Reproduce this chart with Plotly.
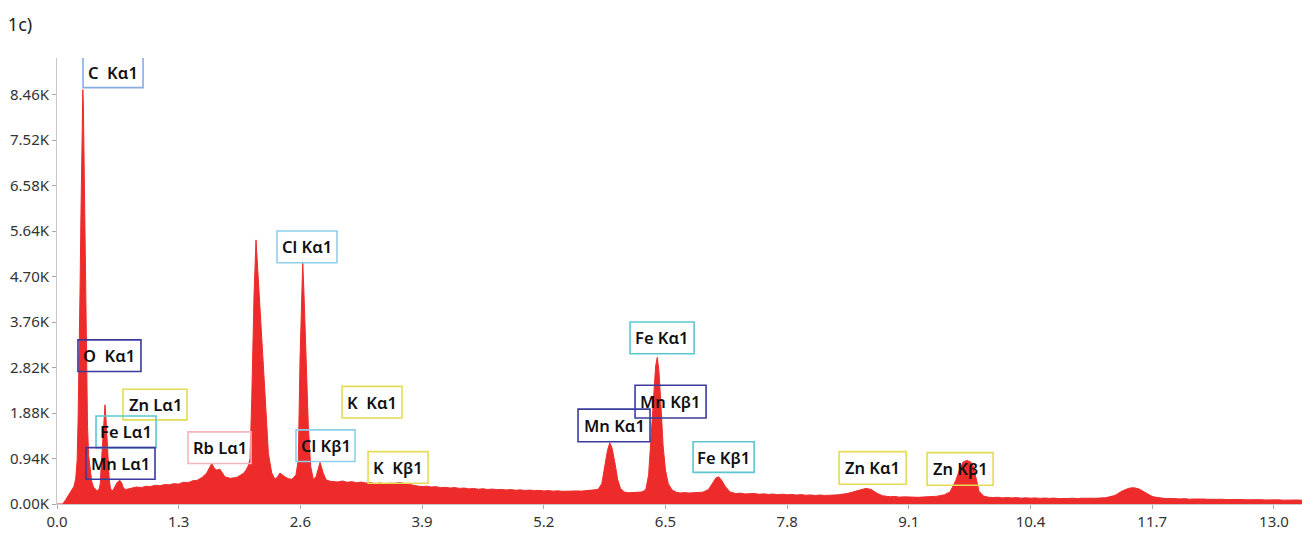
import plotly.graph_objects as go

# EDS spectrum, split into energy ranges: energy (keV) and counts
# 0 - 0.8 keV: C K and O / Fe L / Mn L lines
e_low = [0.00, 0.06, 0.09, 0.12, 0.15, 0.18, 0.20, 0.215, 0.225, 0.236,
         0.246, 0.256, 0.264, 0.270, 0.276, 0.282, 0.288, 0.295, 0.302, 0.310,
         0.318, 0.326, 0.338, 0.353, 0.370, 0.390, 0.410, 0.430, 0.450, 0.462,
         0.475, 0.490, 0.503, 0.513, 0.522, 0.533, 0.545, 0.558, 0.570, 0.585,
         0.600, 0.620, 0.645, 0.670, 0.690, 0.710, 0.730, 0.760]
c_low = [0, 0, 80, 170, 250, 360, 520, 900, 1700, 2900,
         4400, 6000, 7150, 8100, 8560, 8200, 7200, 5900, 4500, 3300,
         2300, 1600, 1000, 680, 470, 350, 300, 270, 310, 420,
         880, 1450, 1900, 2050, 1800, 1350, 880, 520, 330, 270,
         290, 360, 450, 490, 440, 330, 300, 310]

# 0.8 - 2.95 keV: Rb L, Au M, Cl K lines
e_mid = [0.80, 0.85, 0.90, 0.95, 1.00, 1.05, 1.10, 1.15, 1.20, 1.25,
         1.30, 1.35, 1.40, 1.45, 1.50, 1.55, 1.60, 1.625, 1.653, 1.68,
         1.706, 1.74, 1.77, 1.795, 1.85, 1.92, 1.99, 2.02, 2.045, 2.062,
         2.080, 2.105, 2.126, 2.151, 2.187, 2.222, 2.258, 2.294, 2.329, 2.355,
         2.382, 2.41, 2.436, 2.475, 2.51, 2.553, 2.578, 2.596, 2.614, 2.625,
         2.639, 2.660, 2.685, 2.71, 2.738, 2.767, 2.81, 2.842, 2.874, 2.917]
c_mid = [330, 352, 338, 366, 360, 388, 375, 402, 396, 420,
         412, 448, 440, 480, 492, 548, 640, 730, 840, 740,
         700, 720, 640, 560, 530, 550, 630, 700, 800, 940,
         2150, 4330, 5455, 4680, 3500, 2280, 1050, 640, 510, 560,
         640, 590, 560, 520, 510, 600, 920, 2970, 4330, 5000,
         4330, 2970, 1600, 780, 510, 560, 860, 650, 500, 470]

# 2.95 - 5.7 keV: K lines on the continuum
e_k = [2.95, 3.0, 3.05, 3.1, 3.15, 3.2, 3.25, 3.3, 3.35, 3.4,
       3.45, 3.5, 3.55, 3.6, 3.66, 3.72, 3.76, 3.8, 3.85, 3.9,
       3.95, 4.0, 4.05, 4.1, 4.15, 4.2, 4.25, 4.3, 4.35, 4.4,
       4.45, 4.5, 4.55, 4.6, 4.65, 4.7, 4.75, 4.8, 4.85, 4.9,
       4.95, 5.0, 5.05, 5.1, 5.15, 5.2, 5.25, 5.3, 5.35, 5.4,
       5.45, 5.5, 5.55, 5.6, 5.65, 5.70]
c_k = [465, 455, 475, 448, 462, 440, 452, 432, 445, 420,
       436, 412, 430, 425, 445, 420, 405, 385, 372, 360,
       368, 350, 358, 338, 345, 330, 340, 322, 330, 312,
       322, 305, 315, 300, 308, 296, 302, 290, 298, 284,
       292, 280, 288, 276, 282, 270, 278, 265, 272, 262,
       268, 262, 270, 266, 275, 295]

# 5.7 - 7.2 keV: Mn K and Fe K lines
e_fe = [5.78, 5.82, 5.85, 5.88, 5.905, 5.93, 5.96, 5.99, 6.02, 6.06,
        6.10, 6.15, 6.20, 6.24, 6.26, 6.29, 6.32, 6.345, 6.37, 6.395,
        6.413, 6.43, 6.45, 6.475, 6.50, 6.53, 6.57, 6.62, 6.66, 6.70,
        6.75, 6.80, 6.85, 6.90, 6.96, 7.0, 7.04, 7.07, 7.1, 7.14,
        7.19]
c_fe = [300, 420, 750, 1100, 1265, 1150, 850, 500, 320, 250,
        232, 240, 234, 248, 260, 300, 600, 1400, 2250, 2850,
        3030, 2750, 2100, 1200, 700, 420, 290, 240, 228, 236,
        226, 234, 238, 245, 300, 420, 540, 560, 490, 360,
        250]

# 7.25 - 13.3 keV: Zn K and Au L lines
e_high = [7.25, 7.3, 7.35, 7.4, 7.45, 7.5, 7.55, 7.6, 7.65, 7.7,
          7.75, 7.8, 7.85, 7.9, 7.95, 8.0, 8.05, 8.1, 8.15, 8.2,
          8.25, 8.3, 8.35, 8.45, 8.55, 8.64, 8.70, 8.76, 8.82, 8.9,
          8.95, 9.0, 9.05, 9.1, 9.15, 9.2, 9.25, 9.3, 9.35, 9.4,
          9.48, 9.54, 9.60, 9.64, 9.68, 9.72, 9.76, 9.79, 9.82, 9.85,
          9.90, 9.95, 10.0, 10.05, 10.1, 10.15, 10.2, 10.25, 10.3, 10.35,
          10.4, 10.45, 10.5, 10.55, 10.6, 10.65, 10.7, 10.75, 10.8, 10.85,
          10.9, 10.95, 11.0, 11.05, 11.1, 11.15, 11.2, 11.3, 11.38, 11.45,
          11.5, 11.56, 11.62, 11.7, 11.75, 11.8, 11.85, 11.9, 11.95, 12.0,
          12.05, 12.1, 12.15, 12.2, 12.25, 12.3, 12.35, 12.4, 12.45, 12.5,
          12.55, 12.6, 12.65, 12.7, 12.75, 12.8, 12.85, 12.9, 12.95, 13.0,
          13.05, 13.1, 13.15, 13.2, 13.25, 13.3]
c_high = [215, 225, 208, 208, 218, 200, 210, 198, 206, 192,
          202, 190, 198, 184, 194, 180, 188, 176, 186, 176,
          184, 180, 190, 220, 280, 322, 300, 220, 170, 150,
          156, 142, 148, 140, 146, 138, 144, 145, 152, 160,
          190, 250, 480, 700, 870, 900, 870, 780, 520, 260,
          165, 140, 132, 140, 126, 134, 126, 132, 120, 128,
          120, 126, 116, 124, 116, 122, 112, 120, 114, 120,
          112, 120, 116, 122, 118, 126, 128, 175, 270, 325,
          338, 310, 240, 155, 136, 122, 112, 116, 104, 105,
          110, 98, 104, 96, 102, 96, 100, 92, 98, 90,
          96, 90, 94, 86, 92, 84, 90, 84, 88, 82,
          86, 80, 84, 80, 82, 78]

energy_kev = e_low + e_mid + e_k + e_fe + e_high
counts = c_low + c_mid + c_k + c_fe + c_high
assert len(energy_kev) == len(counts)

x_ticks = [0.0, 1.3, 2.6, 3.9, 5.2, 6.5, 7.8, 9.1, 10.4, 11.7, 13.0]
y_ticks = [0, 940, 1880, 2820, 3760, 4700, 5640, 6580, 7520, 8460]
y_tick_text = ["0.00K", "0.94K", "1.88K", "2.82K", "3.76K", "4.70K", "5.64K", "6.58K", "7.52K", "8.46K"]

# Element line labels: text, box extent in keV and counts, border colour
line_labels = ["C  Kα1", "Cl Kα1", "O  Kα1", "Zn Lα1", "Fe Lα1", "Mn Lα1", "Rb Lα1", "Cl Kβ1",
               "K  Kα1", "K  Kβ1", "Fe Kα1", "Mn Kβ1", "Mn Kα1", "Fe Kβ1", "Zn Kα1", "Zn Kβ1"]
label_x0 = [0.278, 2.350, 0.224, 0.705, 0.417, 0.310, 1.400, 2.553,
            3.045, 3.323, 6.122, 6.175, 5.566, 6.795, 8.355, 9.295]
label_x1 = [0.919, 2.991, 0.897, 1.389, 1.058, 1.047, 2.073, 3.184,
            3.686, 3.964, 6.806, 6.934, 6.335, 7.447, 9.071, 10.000]
label_y0 = [8601, 4985, 2738, 1737, 1165, 511, 838, 878,
            1777, 429, 3105, 1777, 1287, 654, 409, 388]
label_y1 = [9400, 5639, 3391, 2370, 1818, 1165, 1491, 1532,
            2431, 1083, 3759, 2452, 1961, 1287, 1083, 1062]

INDIGO = "#3b3b9e"
YELLOW = "#e4dc55"
TEAL = "#5cc6cf"
SKY = "#8dd0ec"
label_colors = ["#86ace4", SKY, INDIGO, YELLOW, TEAL, INDIGO, "#f4b6bf", SKY,
                YELLOW, YELLOW, TEAL, INDIGO, INDIGO, TEAL, YELLOW, YELLOW]

Y_MAX = 9214
RED = "#ee2b2b"

fig = go.Figure()
fig.add_trace(go.Scatter(
    x=energy_kev, y=counts, mode="lines", fill="tozeroy",
    line=dict(color=RED, width=1), fillcolor=RED, hoverinfo="skip",
))

shapes = []
annotations = []
for text, x0, x1, y0, y1, col in zip(line_labels, label_x0, label_x1, label_y0, label_y1, label_colors):
    shapes.append(dict(type="rect", xref="x", yref="y", x0=x0, x1=x1, y0=y0, y1=y1,
                       line=dict(color=col, width=1.6), fillcolor="rgba(0,0,0,0)", layer="above"))
    yc = (y0 + min(y1, Y_MAX)) / 2
    annotations.append(dict(x=(x0 + x1) / 2, y=yc, xref="x", yref="y", text=text,
                            showarrow=False, xanchor="center", yanchor="middle",
                            font=dict(family="Noto Sans", size=16.5, color="#111", weight=600)))

fig.update_layout(
    width=1310, height=539,
    margin=dict(l=57, r=8, t=58, b=30),
    paper_bgcolor="white", plot_bgcolor="white",
    showlegend=False,
    title=dict(text="1c)", x=0.006, xref="container", xanchor="left",
               y=0.955, yref="container", yanchor="middle",
               font=dict(family="Noto Sans", size=18, color="#222")),
    shapes=shapes, annotations=annotations,
    font=dict(family="Noto Sans", size=15, color="#333"),
)
fig.update_xaxes(
    range=[0, 13.3], tickvals=x_ticks, ticktext=[f"{v:.1f}" for v in x_ticks],
    showgrid=False, zeroline=False, showline=True, linecolor="#c9c9c9", linewidth=1,
    ticks="outside", ticklen=4, tickcolor="#aaa", tickfont=dict(size=15, color="#333"),
)
fig.update_yaxes(
    range=[0, Y_MAX], tickvals=y_ticks, ticktext=y_tick_text,
    showgrid=False, zeroline=False, showline=True, linecolor="#c9c9c9", linewidth=1,
    ticks="outside", ticklen=4, tickcolor="#aaa", tickfont=dict(size=15, color="#333"),
)

fig.write_html("out.html")
